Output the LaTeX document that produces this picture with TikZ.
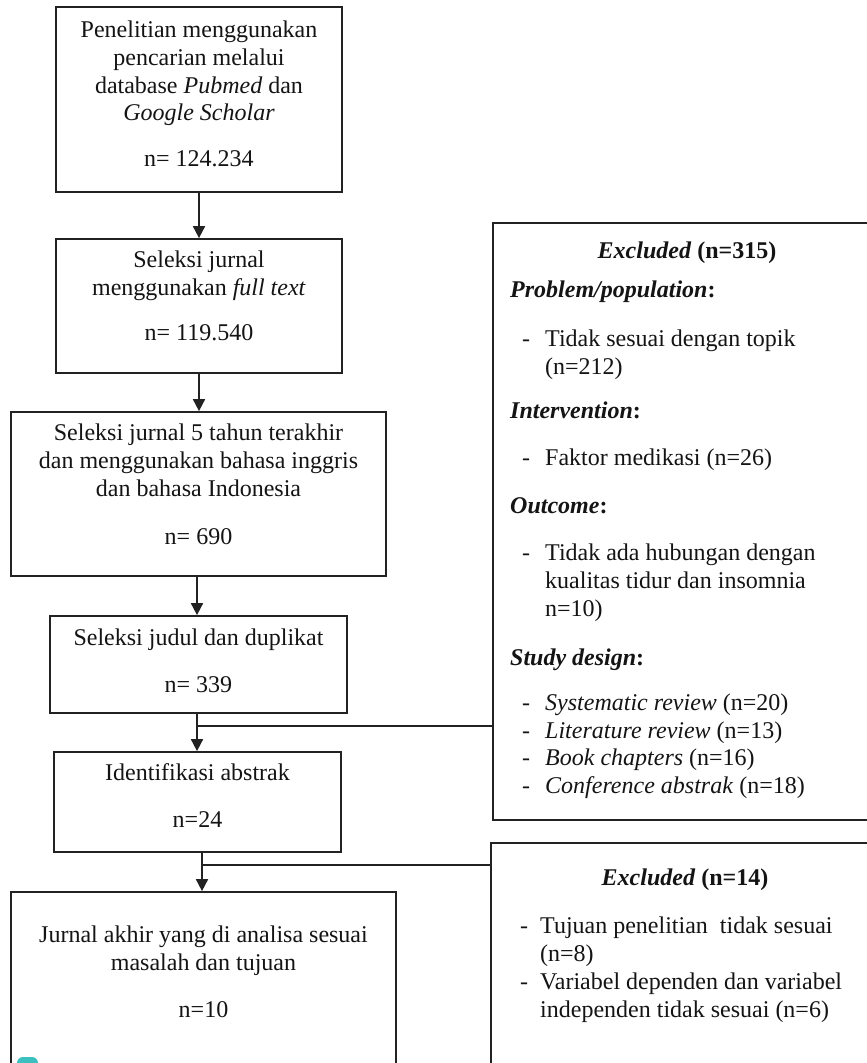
\documentclass[tikz,border=0pt]{standalone}
\usepackage{fontspec}
\setmainfont{Liberation Serif}
\usetikzlibrary{arrows.meta}
\definecolor{tealblob}{HTML}{3CBFBF}
\definecolor{linegray}{HTML}{222222}
\begin{document}
\begin{tikzpicture}[x=1pt,y=-1pt,
  box/.style={draw=linegray, line width=1.7pt, inner sep=0pt},
  txt/.style={inner sep=0pt, font=\fontsize{24}{27.7}\selectfont, text=black!92},
  rt/.style={txt, anchor=west, align=left},
  arr/.style={draw=linegray, line width=1.7pt, -{Triangle[width=12pt,length=12pt]}},
  ln/.style={draw=linegray, line width=1.7pt}]
\clip (0,0) rectangle (867,1063);
\fill[white] (0,0) rectangle (867,1063);

% left boxes
\node[box, minimum width=286, minimum height=185] (b1) at (199,99.5) {};
\node[txt, align=center] (t1) at (199,96.5) {\strut Penelitian menggunakan\\ pencarian melalui\\ database \textit{Pubmed} dan\\ \textit{Google Scholar}\\[18pt] n= 124.234\strut};

\node[box, minimum width=286, minimum height=134] (b2) at (199,306) {};
\node[txt, align=center] (t2) at (199,298.5) {\strut Seleksi jurnal\\ menggunakan \textit{full text}\\[17pt] n= 119.540\strut};

\node[box, minimum width=375, minimum height=164] (b3) at (198.5,494) {};
\node[txt, align=center] (t3) at (198.5,487) {\strut Seleksi jurnal 5 tahun terakhir\\ dan menggunakan bahasa inggris\\ dan bahasa Indonesia\\[20pt] n= 690\strut};

\node[box, minimum width=297, minimum height=97] (b4) at (198.5,664.5) {};
\node[txt, align=center] (t4) at (198.5,663.5) {\strut Seleksi judul dan duplikat\\[19.3pt] n= 339\strut};

\node[box, minimum width=287, minimum height=100] (b5) at (197.5,802) {};
\node[txt, align=center] (t5) at (197.5,798.5) {\strut Identifikasi abstrak\\[19.3pt] n=24\strut};

\node[box, minimum width=385, minimum height=208] (b6) at (203.5,996) {};
\node[txt, align=center] (t6) at (203.5,974.5) {\strut Jurnal akhir yang di analisa sesuai\\ masalah dan tujuan\\[19.3pt] n=10\strut};

% right boxes
\node[box, minimum width=388, minimum height=597] (R1) at (687,521.5) {};
\node[box, minimum width=390, minimum height=257] (R2) at (686,971.5) {};

% connectors
\coordinate (ax12) at (199,0);
\coordinate (ax34) at (197,0);
\coordinate (ax56) at (202,0);
\draw[arr] (b1.south -| ax12) -- (b2.north -| ax12);
\draw[arr] (b2.south -| ax12) -- (b3.north -| ax12);
\draw[arr] (b3.south -| ax34) -- (b4.north -| ax34);
\draw[arr] (b4.south -| ax34) -- (b5.north -| ax34);
\coordinate (j1) at (197,726);
\draw[ln] (j1) -- (j1 -| R1.west);
\draw[arr] (b5.south -| ax56) -- (b6.north -| ax56);
\coordinate (j2) at (202,865);
\draw[ln] (j2) -- (j2 -| R2.west);

% right box 1 text
\node[txt] (r1h) at (687,253) {\strut\textbf{\textit{Excluded} (n=315)}};
\node[rt] (r1a) at (510,292) {\strut\textbf{\textit{Problem/population}:}};
\node[rt] (r1ad) at (522,341) {\strut -};
\node[rt] (r1at) at (545,355) {\strut Tidak sesuai dengan topik\\ (n=212)\strut};
\node[rt] (r1b) at (510,413) {\strut\textbf{\textit{Intervention}:}};
\node[rt] (r1bd) at (522,460) {\strut -};
\node[rt] (r1bt) at (545,460) {\strut Faktor medikasi (n=26)};
\node[rt] (r1c) at (510,508) {\strut\textbf{\textit{Outcome}:}};
\node[rt] (r1cd) at (522,555) {\strut -};
\node[rt] (r1ct) at (545,583) {\strut Tidak ada hubungan dengan\\ kualitas tidur dan insomnia\\ n=10)\strut};
\node[rt] (r1d) at (510,660) {\strut\textbf{\textit{Study design}:}};
\node[rt] (r1dd) at (522,746.5) {\strut -\\ -\\ -\\ -\strut};
\node[rt] (r1dt) at (545,746.5) {\strut\textit{Systematic review} (n=20)\\ \textit{Literature review} (n=13)\\ \textit{Book chapters} (n=16)\\ \textit{Conference abstrak} (n=18)\strut};

% right box 2 text
\node[txt] (r2h) at (685,880) {\strut\textbf{\textit{Excluded} (n=14)}};
\node[rt] (r2ad) at (520,928) {\strut -};
\node[rt] (r2at) at (540,942) {\strut Tujuan penelitian\ \ tidak sesuai\\ (n=8)\strut};
\node[rt] (r2bd) at (520,984) {\strut -};
\node[rt] (r2bt) at (540,998) {\strut Variabel dependen dan variabel\\ independen tidak sesuai (n=6)\strut};

% teal mark at bottom left
\fill[tealblob, rounded corners=6pt] (17,1057) rectangle (38,1080);
\end{tikzpicture}
\end{document}
